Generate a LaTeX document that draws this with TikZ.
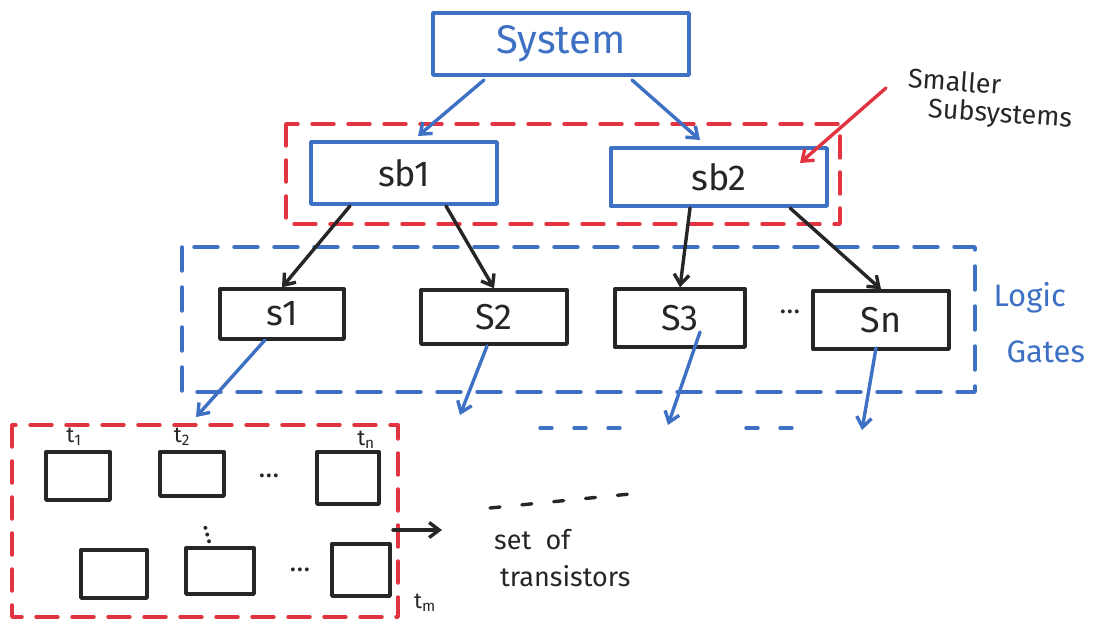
\documentclass[tikz,border=0pt]{standalone}
\usepackage{fontspec}
\setmainfont{Fira Sans}
\usetikzlibrary{arrows.meta}
\definecolor{penblue}{RGB}{62,112,196}
\definecolor{penred}{RGB}{226,52,64}
\definecolor{penblack}{RGB}{38,38,38}
\tikzset{
  pen/.style={line width=3.4pt, line cap=round, line join=round},
  bluebox/.style={pen, draw=penblue, text=penblue, rectangle, inner sep=0pt},
  blackbox/.style={pen, draw=penblack, text=penblack, rectangle, inner sep=0pt},
  cell/.style={pen, draw=penblack, rectangle, inner sep=0pt},
  tip/.style={-{Straight Barb[length=10pt,width=15pt,line width=3.4pt]}},
  bluearrow/.style={pen, tip, draw=penblue},
  blackarrow/.style={pen, tip, draw=penblack},
  redarrow/.style={pen, tip, draw=penred},
  reddash/.style={pen, draw=penred, dash pattern=on 22pt off 14pt},
  bluedash/.style={pen, draw=penblue, dash pattern=on 24pt off 16pt},
  dots/.style={pen, draw=penblue, dash pattern=on 12pt off 22pt},
  boxtext/.style={font=\fontsize{36}{40}\selectfont},
  note/.style={text=penblack, font=\fontsize{27}{32}\selectfont},
  bluenote/.style={text=penblue, font=\fontsize{31}{36}\selectfont},
  small/.style={text=penblack, font=\fontsize{22}{24}\selectfont, inner sep=0pt},
  dotstext/.style={text=penblack, font=\fontsize{28}{30}\selectfont},
}
\begin{document}
\begin{tikzpicture}[x=1pt, y=-1pt]
\useasboundingbox (0,0) rectangle (1110,619);

% grouping frames
\draw[reddash] (286,124) rectangle (840,224);
\draw[bluedash] (182,247) rectangle (975,392);
\draw[reddash] (12,425) rectangle (398,617);

% top of the hierarchy
\node[bluebox, minimum width=256pt, minimum height=62pt,
      font=\fontsize{40}{44}\selectfont] (sys) at (561,44) {System};

% subsystems
\node[bluebox, text=penblack, boxtext, minimum width=186pt, minimum height=62pt] (sb1) at (404,173) {sb1};
\node[bluebox, text=penblack, boxtext, minimum width=216pt, minimum height=58pt] (sb2) at (719,177) {sb2};

% logic gates
\node[blackbox, boxtext, minimum width=124pt, minimum height=50pt] (s1) at (282,314) {s1};
\node[blackbox, boxtext, minimum width=146pt, minimum height=54pt] (s2) at (494,317) {S2};
\node[blackbox, boxtext, minimum width=130pt, minimum height=58pt] (s3) at (680,318) {S3};
\node[blackbox, boxtext, minimum width=136pt, minimum height=58pt] (sn) at (881,320) {Sn};
\node[dotstext] (gdots) at (790,312) {\dots};

% annotations
\node[note, rotate=-4, anchor=west, inner sep=0pt] (sm1) at (908,78) {Smaller};
\node[note, rotate=-4, anchor=west, inner sep=0pt] (sm2) at (928,110) {Subsystems};
\node[bluenote, anchor=west] (lg1) at (990,298) {Logic};
\node[bluenote, anchor=west] (lg2) at (1003,352) {Gates};

% transistor cells
\node[cell, minimum width=64pt, minimum height=48pt] (c11) at (78,476) {};
\node[cell, minimum width=64pt, minimum height=44pt] (c12) at (192,474) {};
\node[cell, minimum width=62pt, minimum height=52pt] (c13) at (348,478) {};
\node[cell, minimum width=66pt, minimum height=48pt] (c21) at (114,574) {};
\node[cell, minimum width=68pt, minimum height=46pt] (c22) at (220,571) {};
\node[cell, minimum width=58pt, minimum height=52pt] (c23) at (361,570) {};
\node[small] (t1) at (74,437) {t\textsubscript{1}};
\node[small] (t2) at (182,437) {t\textsubscript{2}};
\node[small] (tn) at (366,440) {t\textsubscript{n}};
\node[small] (tm) at (425,603) {t\textsubscript{m}};
\node[dotstext] (rdots1) at (269,476) {\dots};
\node[dotstext] (rdots2) at (300,570) {\dots};
\node[dotstext, rotate=-75] (vdots) at (208,535) {\dots};

% label for the transistor group
\coordinate (setfrom) at (393,530);
\node[note, anchor=west, inner sep=0pt] (set) at (494,540) {set \ of};
\node[note, anchor=west, inner sep=0pt] (tr) at (500,576) {transistors};
\coordinate (dl) at (490,508);
\coordinate (dr) at (630,494);
\draw[pen, draw=penblack, dash pattern=on 10pt off 22pt] (dl) -- (dr);
\coordinate (setto) at (442,530);
\draw[blackarrow] (setfrom) -- (setto);

% hierarchy connectors
\coordinate (sysL) at (484,80);
\coordinate (sb1t) at (418,136);
\coordinate (sysR) at (632,80);
\coordinate (sb2t) at (700,140);
\draw[bluearrow] (sysL) -- (sb1t);
\draw[bluearrow] (sysR) -- (sb2t);
\coordinate (redfrom) at (886,88);
\coordinate (sb2e) at (800,163);
\draw[redarrow] (redfrom) -- (sb2e);

\coordinate (a1) at (350,206);
\coordinate (a2) at (446,206);
\coordinate (a3) at (690,208);
\coordinate (a4) at (790,208);
\draw[blackarrow] (a1) -- (s1.north);
\draw[blackarrow] (a2) -- (s2.north);
\draw[blackarrow] (a3) -- (s3.north);
\draw[blackarrow] (a4) -- (sn.north);

% outputs of the gates
\coordinate (g1) at (265,340);
\coordinate (g2) at (487,346);
\coordinate (g3) at (700,332);
\coordinate (g4) at (876,348);
\coordinate (o1) at (196,417);
\coordinate (o2) at (460,415);
\coordinate (o3) at (668,425);
\coordinate (o4) at (862,430);
\draw[bluearrow] (g1) -- (o1);
\draw[bluearrow] (g2) -- (o2);
\draw[bluearrow] (g3) -- (o3);
\draw[bluearrow] (g4) -- (o4);
\coordinate (d1a) at (540,428);
\coordinate (d1b) at (628,428);
\coordinate (d2a) at (746,428);
\coordinate (d2b) at (812,428);
\draw[dots] (d1a) -- (d1b);
\draw[dots] (d2a) -- (d2b);
\end{tikzpicture}
\end{document}
